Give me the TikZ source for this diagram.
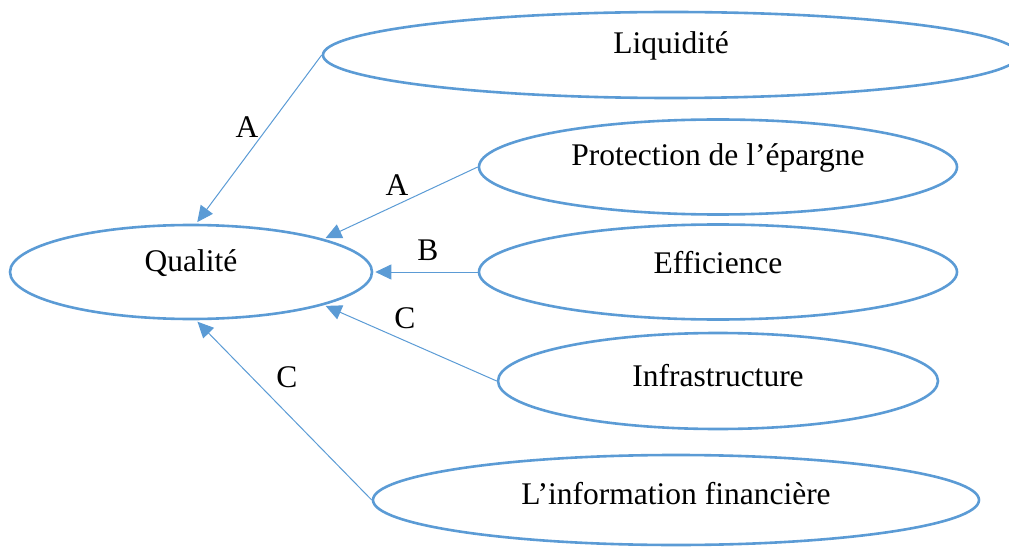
\documentclass[tikz,border=0pt]{standalone}
\usepackage{fontspec}
\setmainfont{Liberation Serif}
\usetikzlibrary{shapes.geometric,arrows.meta}
\definecolor{eblue}{RGB}{91,155,213}
\newcommand{\up}[2][9pt]{\raisebox{#1}[\height][\depth]{#2}}
\begin{document}
\begin{tikzpicture}[x=1pt,y=-1pt,
  ell/.style={ellipse,draw=eblue,line width=2.6pt,inner sep=0pt,font=\fontsize{31.5}{36}\selectfont},
  conn/.style={draw=eblue,line width=1pt,shorten >=2pt,-{Triangle[length=16pt,width=15pt]}},
  lbl/.style={font=\fontsize{31.5}{36}\selectfont,inner sep=0pt}]
\useasboundingbox (0,0) rectangle (1009,548);
\node[ell,minimum width=696pt,minimum height=86pt] (liq) at (671,55) {\up{Liquidité}};
\node[ell,minimum width=478pt,minimum height=95pt] (prot) at (718,167) {\up{Protection de l’épargne}};
\node[ell,minimum width=478pt,minimum height=95pt] (eff) at (718,272) {\up{Efficience}};
\node[ell,minimum width=440pt,minimum height=96pt] (infra) at (718,381) {\up[5pt]{Infrastructure}};
\node[ell,minimum width=606pt,minimum height=90pt] (info) at (676,500) {\up[6pt]{L’information financière}};
\node[ell,minimum width=362pt,minimum height=94pt] (qual) at (191,272) {\up{Qualité}};
\draw[conn] (liq.west) -- (qual.84);
\draw[conn] (prot.west) -- (qual.14);
\draw[conn] (eff.west) -- (qual.east);
\draw[conn] (infra.west) -- (qual.-14);
\draw[conn] (info.west) -- (qual.-84);
\node[lbl] (la1) at (247,127) {A};
\node[lbl] (la2) at (397,185) {A};
\node[lbl] (lb) at (428,250) {B};
\node[lbl] (lc1) at (405,318) {C};
\node[lbl] (lc2) at (287,377) {C};
\end{tikzpicture}
\end{document}
